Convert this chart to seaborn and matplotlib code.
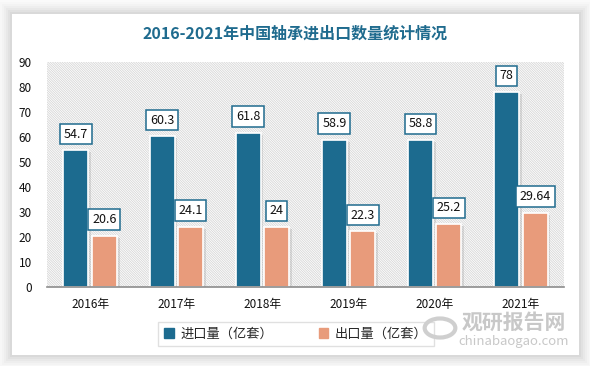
import numpy as np
import pandas as pd
import seaborn as sns
import matplotlib.pyplot as plt
import matplotlib.patches as mpatches
import matplotlib.patheffects as pe

# data
years = ["2016年", "2017年", "2018年", "2019年", "2020年", "2021年"]
imports = [54.7, 60.3, 61.8, 58.9, 58.8, 78]
exports = [20.6, 24.1, 24, 22.3, 25.2, 29.64]
series = ["进口量（亿套）", "出口量（亿套）"]
colors = ["#1c6b8f", "#e89b7b"]

df = pd.DataFrame({
    "year": years * 2,
    "value": imports + exports,
    "kind": [series[0]] * 6 + [series[1]] * 6,
})

sns.set_theme(style="white")
plt.rcParams['font.family'] = ['Noto Sans CJK SC', 'DejaVu Sans']
plt.rcParams['hatch.color'] = '#d6d6d6'
plt.rcParams['hatch.linewidth'] = 0.6

fig = plt.figure(figsize=(5.9, 3.66), dpi=100)
fig.patch.set_facecolor("#fafafa")

# card with soft shadow
for i, a in enumerate([0.012, 0.016, 0.02, 0.024, 0.028, 0.032]):
    d = (6 - i) * 2
    fig.patches.append(mpatches.Rectangle(
        ((12 - d) / 590, 1 - (355 + d) / 366), (567 + 2 * d) / 590, (341 + 2 * d) / 366,
        transform=fig.transFigure, facecolor="black", alpha=a, edgecolor="none", zorder=-3))
fig.patches.append(mpatches.Rectangle(
    (12 / 590, 1 - 355 / 366), 567 / 590, 341 / 366,
    transform=fig.transFigure, facecolor="white", edgecolor="none", zorder=-2))

ax = fig.add_axes([47 / 590, 1 - 287 / 366, 517 / 590, 225 / 366])
ax.set_zorder(2)
ax.set_facecolor("none")
hatch_bg = mpatches.Rectangle((0, 0), 1, 1, transform=ax.transAxes,
                              facecolor="white", edgecolor="#d6d6d6", linewidth=0,
                              hatch="\\" * 14, zorder=0)
ax.add_patch(hatch_bg)

sns.barplot(data=df, x="year", y="value", hue="kind", palette=colors,
            width=0.66, gap=0.12, edgecolor="white", linewidth=1.2,
            saturation=1, legend=False, ax=ax, zorder=2)

shadow = [pe.SimplePatchShadow(offset=(2, -1.5), shadow_rgbFace="#909090", alpha=0.25), pe.Normal()]
for p in ax.patches:
    if p is not hatch_bg:
        p.set_path_effects(shadow)

for cont, vals in zip(ax.containers, [imports, exports]):
    ax.bar_label(cont, labels=[f"{v:g}" for v in vals], padding=7, fontsize=9,
                 color="#111111",
                 bbox=dict(boxstyle="square,pad=0.3", facecolor="white",
                           edgecolor="#1f6b8e", linewidth=1.1))

ax.set_ylim(0, 90)
ax.set_yticks(range(0, 91, 10))
ax.set_xlim(-0.5, 5.5)
ax.set_xlabel("")
ax.set_ylabel("")
ax.tick_params(axis="both", labelsize=8.5, colors="#111111", length=0, pad=8)
ax.tick_params(axis="y", pad=11)
for s in ["top", "right", "left"]:
    ax.spines[s].set_visible(False)
ax.spines["bottom"].set_color("#8c8c8c")
ax.spines["bottom"].set_linewidth(1.2)

fig.text(295 / 590, 1 - 34 / 366, "2016-2021年中国轴承进出口数量统计情况",
         ha="center", va="center", fontsize=11.5, fontweight="bold", color="#1f6b8e")

handles = [mpatches.Patch(color=c, label=s) for c, s in zip(colors, series)]
leg = fig.legend(handles=handles, loc="center", bbox_to_anchor=(296 / 590, 1 - 334 / 366),
                 ncol=2, fontsize=9.5, frameon=True, fancybox=False, handlelength=0.7,
                 handleheight=0.7, columnspacing=3.5, handletextpad=0.5, borderpad=0.45)
leg.get_frame().set_edgecolor("#d9d9d9")
leg.get_frame().set_linewidth(1)
leg.set_zorder(5)

# watermark
fig.text(514 / 590, 1 - 322 / 366, "观研报告网", ha="center", va="center",
         fontsize=15, fontweight="bold", color="#c8c8c8", zorder=6)
fig.text(514 / 590, 1 - 342 / 366, "chinabaogao.com", ha="center", va="center",
         fontsize=9.5, color="#c8c8c8", zorder=6)
fig.patches.append(mpatches.Circle((440 / 590, 1 - 328 / 366), 0.026, transform=fig.transFigure,
                                   facecolor="none", edgecolor="#cfcfcf", linewidth=3, zorder=6))

fig.savefig("out.png", dpi=100)
